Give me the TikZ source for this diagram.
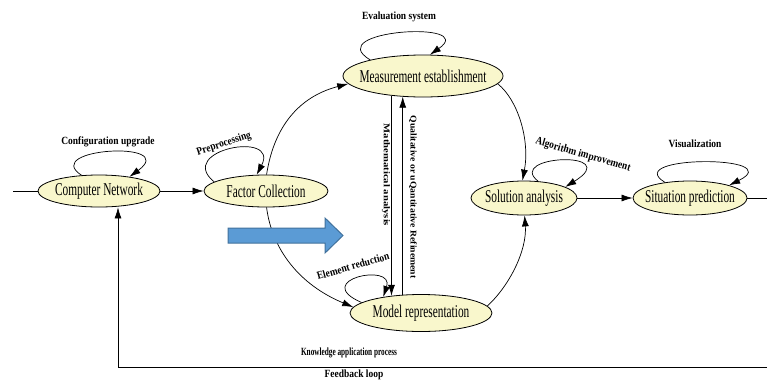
\documentclass[tikz,border=0pt]{standalone}
\usepackage{fontspec}
\usepackage{graphicx}
\setmainfont{Liberation Serif}
\usetikzlibrary{arrows.meta,shapes.geometric}
\definecolor{nodefill}{RGB}{249,247,204}
\definecolor{bluefill}{RGB}{91,155,213}
\definecolor{blueline}{RGB}{65,113,156}
\newcommand\ntxt[1]{\makebox[0pt]{\scalebox{0.63}[1]{\fontsize{18}{20}\selectfont #1}}}
\newcommand\ltxt[1]{\scalebox{0.86}[1]{\fontsize{11}{13}\selectfont\bfseries #1}}
\newcommand\vtxt[2]{\scalebox{#1}[0.8]{\fontsize{11}{13}\selectfont\bfseries #2}}
\begin{document}
\begin{tikzpicture}[x=1pt,y=-1pt,
  st/.style={draw, ellipse, fill=nodefill, line width=0.8pt, inner sep=0pt},
  arr/.style={-{Latex[length=11pt,width=7pt]}, line width=0.7pt},
  ln/.style={line width=0.7pt},
  lab/.style={inner sep=0pt}]
\useasboundingbox (0,0) rectangle (767,380);

% nodes
\node[st,minimum width=122pt,minimum height=32pt] (cn) at (99,191) {\ntxt{Computer Network}};
\node[st,minimum width=124pt,minimum height=32pt] (fc) at (266,191) {\ntxt{Factor Collection}};
\node[st,minimum width=160pt,minimum height=42pt] (me) at (423,76) {\ntxt{Measurement establishment}};
\node[st,minimum width=142pt,minimum height=37pt] (mr) at (421,313) {\ntxt{Model representation}};
\node[st,minimum width=106pt,minimum height=34pt] (sa) at (524,198) {\ntxt{Solution analysis}};
\node[st,minimum width=114pt,minimum height=34pt] (sp) at (690,198) {\ntxt{Situation prediction}};

% free ends
\coordinate (in) at (13,191);
\coordinate (out) at (767,198);
\coordinate (fbR) at (767,367);
\coordinate (fbL) at (118,367);

% main connectors
\draw[ln] (in) -- (cn.west);
\draw[arr] (cn.east) -- (fc.west);
\draw[arr] (sa.east) -- (sp.west);
\draw[ln] (sp.east) -- (out);
\draw[arr] (fbR) -- (fbL) -- (fbL |- cn.south);

\draw[arr] (fc.88) .. controls (275,120) and (305,95) .. (me.186);
\draw[arr] (fc.-88) .. controls (272,250) and (300,285) .. (mr.175);
\draw[arr] (me.-148) -- (me.-148 |- mr.150);
\draw[arr] (mr.135) -- (mr.135 |- me.-135);
\draw[arr] (me.-6) .. controls (518,100) and (530,140) .. (sa.95);
\draw[arr] (mr.6) .. controls (510,285) and (527,250) .. (sa.-88);

% self loops
\draw[arr] (cn.138) .. controls (40,148) and (180,140) .. (cn.25);
\draw[arr] (fc.170) .. controls (175,150) and (280,130) .. (fc.120);
\draw[arr] (me.163) .. controls (320,30) and (480,20) .. (me.72);
\draw[arr] (mr.170) .. controls (310,280) and (395,262) .. (mr.157);
\draw[arr] (sa.50) .. controls (505,155) and (625,150) .. (sa.15);
\draw[arr] (sp.148) .. controls (620,155) and (790,155) .. (sp.18);

% labels
\node[lab] (l1) at (108,142) {\ltxt{Configuration upgrade}};
\node[lab,rotate=18] (l2) at (224,144) {\ltxt{Preprocessing}};
\node[lab] (l3) at (399,17) {\ltxt{Evaluation system}};
\node[lab,rotate=16] (l4) at (353,266) {\ltxt{Element reduction}};
\node[lab,rotate=-16] (l5) at (583,155) {\ltxt{Algorithm improvement}};
\node[lab] (l6) at (695,144) {\ltxt{Visualization}};
\node[lab,rotate=-90] (l7) at (386,175) {\vtxt{0.97}{Mathematical analysis}};
\node[lab,rotate=-90] (l8) at (413,197) {\vtxt{0.88}{Qualitative or uQantitative Refinement}};
\node[lab] (l9) at (349,353) {\scalebox{0.66}[1]{\fontsize{11}{13}\selectfont\bfseries Knowledge application process}};
\node[lab] (l10) at (354,375) {\ltxt{Feedback loop}};

% blue block arrow
\draw[fill=bluefill, draw=blueline, line width=1pt]
  (228,228) -- (325,228) -- (325,218) -- (343,235.5) -- (325,253) -- (325,243) -- (228,243) -- cycle;
\end{tikzpicture}
\end{document}
